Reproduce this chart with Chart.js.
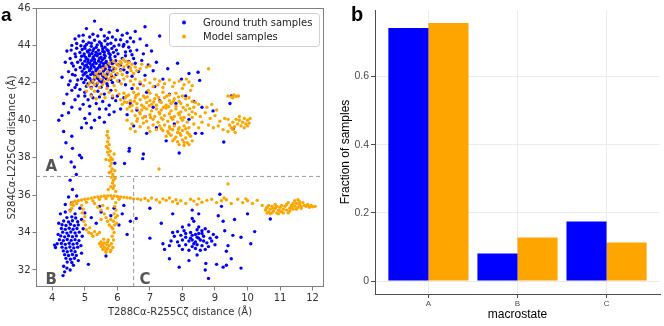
<!DOCTYPE html>
<html>
<head>
<meta charset="utf-8">
<script src="https://cdn.jsdelivr.net/npm/chart.js@4.4.1/dist/chart.umd.min.js"></script>
<style>
  html, body { margin: 0; padding: 0; background: #fff; }
  #wrap { position: relative; width: 664px; height: 326px; }
  #scatterChart { position: absolute; left: 0; top: 0; width: 330px; height: 326px; }
  #barChart { position: absolute; left: 330px; top: 0; width: 334px; height: 326px; }
</style>
</head>
<body>
<div id="wrap">
  <canvas id="scatterChart" width="330" height="326"></canvas>
  <canvas id="barChart" width="334" height="326"></canvas>
</div>
<script>
// ---- panel a: sample positions (flat x,y pairs) ----
const xTicks = [4, 5, 6, 7, 8, 9, 10, 11, 12];
const yTicks = [32, 34, 36, 38, 40, 42, 44, 46];
const splitX = 6.5;
const splitY = 37;
const regionNames = ['A', 'B', 'C'];

// ground truth, macrostate A dense core
const gtCoreA = [
  4.95,44.22, 5.12,44.15, 5.3,44.28, 5.45,44.18, 5.62,44.25, 5.8,44.12,
  4.88,43.98, 5.05,44.05, 5.2,43.95, 5.38,44.03, 5.52,43.97, 5.7,44.06, 5.9,43.96, 6.05,44.02,
  4.92,43.78, 5.0,43.85, 5.15,43.76, 5.28,43.83, 5.42,43.74, 5.55,43.82, 5.68,43.77, 5.83,43.84, 5.97,43.75,
  4.85,43.62, 4.98,43.55, 5.1,43.64, 5.22,43.57, 5.34,43.63, 5.47,43.56, 5.6,43.65, 5.74,43.58, 5.88,43.63, 6.02,43.55,
  4.9,43.42, 5.03,43.36, 5.14,43.44, 5.26,43.38, 5.38,43.45, 5.5,43.37, 5.63,43.43, 5.77,43.36, 5.93,43.41,
  4.87,43.22, 5.0,43.16, 5.1,43.24, 5.2,43.18, 5.3,43.25, 5.42,43.17, 5.54,43.23, 5.66,43.15, 5.8,43.22, 5.95,43.18,
  4.93,43.02, 5.05,42.96, 5.15,43.05, 5.25,42.98, 5.35,43.04, 5.46,42.95, 5.58,43.03, 5.71,42.97, 5.86,43.05, 6.0,42.98,
  4.86,42.82, 4.98,42.76, 5.09,42.84, 5.19,42.77, 5.29,42.85, 5.4,42.78, 5.51,42.83, 5.63,42.76, 5.76,42.84, 5.9,42.77,
  4.92,42.62, 5.04,42.56, 5.14,42.64, 5.24,42.57, 5.34,42.65, 5.45,42.58, 5.57,42.63, 5.7,42.56, 5.84,42.64,
  4.95,42.42, 5.07,42.36, 5.18,42.44, 5.3,42.37, 5.42,42.45, 5.55,42.38, 5.68,42.43, 5.82,42.36, 5.96,42.44,
  4.9,42.22, 5.02,42.16, 5.15,42.24, 5.28,42.17, 5.4,42.23, 5.53,42.15, 5.66,42.22, 5.8,42.17,
  4.97,42.02, 5.1,41.96, 5.24,42.04, 5.38,41.97, 5.52,42.03, 5.68,41.95, 5.85,42.02,
  5.05,41.82, 5.2,41.76, 5.35,41.84, 5.5,41.77, 5.7,41.83,
  5.0,43.95, 5.2,44.12, 5.35,43.9, 5.5,44.1, 5.62,43.9, 5.08,43.7, 5.25,43.72, 5.4,43.55, 5.55,43.68,
  5.15,43.5, 5.32,43.48, 5.6,43.5, 5.05,43.28, 5.25,43.3, 5.45,43.3, 5.6,43.32, 5.1,43.1, 5.3,43.12,
  5.5,43.1, 5.65,43.08, 5.0,42.9, 5.2,42.92, 5.45,42.88, 5.58,42.92, 5.15,42.7, 5.35,42.72, 5.6,42.7,
  5.0,42.5, 5.25,42.5, 5.48,42.5, 5.1,42.3, 5.35,42.3, 5.6,42.3, 5.2,42.1, 5.45,42.1, 4.98,43.45,
  5.72,43.72, 5.78,43.5, 5.82,43.05, 5.75,42.68
];
// ground truth, macrostate A spread
const gtSpreadA = [
  5.3,45.3, 5.05,44.9, 5.5,44.85, 5.75,44.7, 6.0,44.8, 6.3,44.65, 6.55,44.75, 6.85,45.0, 7.3,44.5,
  4.75,44.1, 4.6,44.0, 4.45,43.7, 4.55,43.3, 4.7,43.55, 4.4,43.1, 4.65,42.9, 4.5,42.6, 4.7,42.4,
  4.3,42.3, 4.55,42.1, 4.75,41.9, 4.6,41.6, 4.45,41.4, 4.8,41.3, 4.35,40.9, 4.6,40.7, 4.2,40.0,
  4.3,40.25, 4.5,40.4, 4.85,40.6, 5.0,40.1, 5.15,40.35, 5.3,40.0, 5.45,40.15, 5.6,39.9, 5.75,40.3,
  5.2,39.6, 5.05,39.85, 4.9,39.6,
  6.1,44.3, 6.2,44.05, 6.35,43.9, 6.5,44.2, 6.7,44.35, 6.9,44.0, 6.25,43.65, 6.45,43.5, 6.6,43.75,
  6.8,43.55, 7.05,43.7, 6.15,43.3, 6.35,43.15, 6.55,43.05, 6.75,43.2, 6.95,42.95, 7.2,43.1, 6.1,42.7,
  6.3,42.55, 6.45,42.35, 6.65,42.6, 6.85,42.4, 7.1,42.65, 6.05,42.1, 6.25,41.9, 6.45,41.7, 6.7,41.95,
  6.9,41.5, 7.15,41.8, 7.4,42.2, 7.55,42.75, 7.85,43.05, 7.97,42.2, 8.2,42.5, 8.48,42.57, 8.53,42.13,
  5.0,41.5, 5.2,41.35, 5.4,41.55, 5.6,41.4, 5.8,41.6, 6.0,41.3, 5.1,41.1, 5.35,40.9, 5.55,41.0,
  5.75,40.8, 5.95,41.05, 6.2,41.2, 6.4,40.9, 6.1,40.6, 5.9,40.45, 6.3,40.3, 6.6,40.55, 6.85,40.2,
  7.1,40.7, 7.3,41.05, 7.6,41.4, 7.8,40.9, 8.1,41.3, 8.35,41.0, 8.6,40.7, 8.94,40.5, 9.46,40.9,
  9.5,41.3, 8.4,39.3, 8.6,39.3, 9.27,38.84, 9.56,39.55, 7.5,38.9, 7.9,38.25, 6.8,38.2, 6.78,37.95,
  6.36,38.35, 5.92,37.7, 7.2,39.6, 6.9,39.3, 6.5,39.7, 7.75,39.8, 8.2,40.05,
  4.28,38.04, 4.58,37.77, 4.68,37.5, 4.84,38.13, 4.9,38.0, 4.74,37.1, 6.22,37.69, 6.37,38.5,
  4.42,38.8, 4.6,39.15, 4.35,39.4, 4.62,38.5,
  4.7,44.35, 4.82,44.5, 4.95,44.55, 5.15,44.45, 5.25,44.6, 5.4,44.5, 5.6,44.5, 5.7,44.38, 5.85,44.45,
  5.95,44.3, 6.15,44.55, 6.4,44.4, 4.75,43.85, 4.72,43.4, 4.78,43.1, 4.72,42.7, 4.78,42.15, 4.7,41.75,
  4.85,41.65, 4.58,43.75, 4.6,43.05, 4.62,42.45, 6.18,43.95, 6.25,43.45, 6.3,44.2, 6.4,43.7, 6.5,43.3,
  6.1,42.95, 6.2,42.7, 6.35,42.85, 5.0,41.3, 5.25,41.2, 5.45,41.25, 5.15,40.75, 5.45,40.6, 5.65,40.6,
  5.85,41.2, 4.95,40.85, 4.7,41.1, 4.5,41.9
];
// ground truth, macrostate B
const gtClusterB = [
  4.45,34.8, 4.6,34.84, 4.72,34.78,
  4.35,34.62, 4.5,34.57, 4.62,34.63, 4.78,34.58,
  4.3,34.42, 4.42,34.38, 4.56,34.44, 4.68,34.37, 4.8,34.41,
  4.28,34.22, 4.4,34.17, 4.52,34.23, 4.64,34.18, 4.76,34.22,
  4.32,34.02, 4.45,33.97, 4.57,34.03, 4.7,33.98, 4.83,34.02,
  4.26,33.82, 4.38,33.77, 4.5,33.83, 4.62,33.78, 4.74,33.82,
  4.22,33.62, 4.34,33.57, 4.46,33.63, 4.58,33.58, 4.7,33.62, 4.82,33.57,
  4.28,33.42, 4.4,33.37, 4.52,33.43, 4.64,33.38, 4.76,33.42,
  4.3,33.22, 4.42,33.17, 4.54,33.23, 4.66,33.18, 4.78,33.22,
  4.34,33.02, 4.46,32.97, 4.58,33.03, 4.7,32.98,
  4.38,32.82, 4.5,32.77, 4.62,32.83, 4.74,32.78,
  4.42,32.62, 4.56,32.57, 4.68,32.63,
  4.46,32.42, 4.6,32.4,
  4.15,33.4, 4.1,33.2, 4.2,34.5, 4.18,33.9, 4.25,35.0, 4.4,35.1, 4.55,35.2, 4.7,35.0, 4.9,34.7,
  4.95,34.2, 4.92,33.8, 4.88,33.3, 4.9,32.9, 4.8,32.5, 4.35,32.2, 4.33,31.7, 4.38,31.9, 4.45,32.1,
  4.55,32.0, 4.65,32.25, 5.11,32.3, 4.07,33.33,
  4.55,36.8, 4.62,36.3, 4.5,35.9, 4.75,35.95, 4.4,35.5, 4.6,35.6, 4.85,35.3, 5.0,35.05, 5.2,34.8,
  5.5,35.1, 5.35,34.5, 5.9,35.3, 6.2,35.45, 6.05,34.4, 6.3,33.9, 5.65,32.75, 6.4,34.6, 5.45,35.4,
  5.8,34.9, 6.15,35.0
];
// ground truth, macrostate C
const gtClusterC = [
  8.0,34.3, 8.2,34.4, 8.35,34.6, 8.5,34.3, 8.7,34.2, 8.3,34.75,
  7.85,34.05, 8.05,34.1, 8.25,34.0, 8.45,34.15, 8.6,33.95, 8.8,34.05, 8.95,33.9,
  7.75,33.8, 7.95,33.85, 8.1,33.75, 8.3,33.85, 8.5,33.7, 8.65,33.8, 8.85,33.7, 9.05,33.75,
  7.65,33.55, 7.85,33.5, 8.0,33.6, 8.2,33.55, 8.4,33.5, 8.55,33.6, 8.75,33.45, 8.9,33.55,
  7.9,33.3, 8.1,33.35, 8.3,33.25, 8.45,33.35, 8.6,33.3, 8.8,33.25, 9.0,33.35,
  8.0,33.1, 8.2,33.05, 8.4,33.15, 8.55,33.05, 8.7,33.1,
  8.4,33.9, 8.25,33.7, 8.5,33.95, 8.35,33.4, 8.65,33.55, 8.1,33.95, 8.45,33.75, 8.3,33.6, 8.6,34.1,
  7.7,34.0, 7.6,33.3,
  6.58,34.75, 7.0,35.3, 7.0,33.7, 7.35,34.5, 7.45,33.1, 7.4,33.4, 7.6,32.6, 7.9,32.15, 8.2,32.5,
  8.45,32.8, 8.7,32.0, 8.8,31.55, 8.72,32.35, 9.05,32.3, 9.25,32.15, 9.35,32.25, 9.8,32.1, 9.5,32.6,
  9.4,33.3, 9.35,33.0, 9.8,33.75, 10.1,33.4, 10.22,34.05, 10.0,35.0, 9.6,34.7, 9.3,34.1, 9.2,35.4,
  9.15,36.05, 9.25,34.6, 10.7,34.72, 8.5,35.0, 8.3,35.2, 7.7,35.0, 9.1,34.9, 9.55,33.85
];

// model, upper arm overlapping the ground-truth core
const modelArmA = [
  5.2,41.7, 5.3,41.9, 5.25,42.1, 5.4,42.0, 5.45,41.75, 5.55,41.9, 5.5,42.2, 5.6,42.05, 5.65,42.35,
  5.72,42.15, 5.8,42.45, 5.78,42.25, 5.88,42.6, 5.9,42.3, 5.95,42.75, 6.0,42.5, 6.05,42.9, 6.1,42.65,
  6.12,43.05, 6.2,42.85, 6.25,43.15, 6.3,42.95, 6.35,43.1, 6.18,43.25, 6.08,43.15, 5.98,43.0,
  5.85,42.85, 5.7,42.6, 5.58,42.45, 5.42,42.35, 5.35,42.5, 5.3,42.3, 5.15,42.0, 5.1,41.85, 5.45,42.6,
  5.55,42.75, 5.65,42.9, 5.75,43.05, 5.88,43.15, 6.4,42.8, 6.45,43.0, 6.55,42.85, 6.6,42.65, 6.5,42.5,
  6.42,42.65, 6.7,42.75, 6.75,43.0, 6.9,42.85, 7.0,42.9, 5.05,41.55,
  5.2,41.3, 5.35,41.15, 5.5,41.4, 5.62,41.2, 5.75,41.5, 5.85,41.3, 5.95,41.6, 6.05,41.4, 5.3,41.55,
  5.68,41.7, 5.9,41.85, 6.0,42.1, 6.12,41.95, 6.2,42.2, 6.3,42.35, 6.15,42.45
];
// model, main body of macrostate A
const modelBodyA = [
  6.4,42.1, 6.55,42.2, 6.7,42.05, 6.85,42.15, 7.0,42.0, 7.15,42.2, 7.3,42.1, 7.45,41.95, 7.6,42.15,
  7.75,42.0, 7.9,42.1, 8.05,41.9, 8.2,42.05, 8.3,41.85, 6.5,41.9, 6.8,41.85, 7.1,41.8, 7.4,41.75,
  7.7,41.8, 8.0,41.7, 8.25,41.6, 8.12,42.2, 7.25,41.9, 6.62,41.7, 6.95,41.6,
  6.2,41.45, 6.35,41.35, 6.5,41.5, 6.65,41.4, 6.8,41.3, 7.0,41.45, 7.2,41.35, 7.4,41.5, 7.6,41.35,
  7.8,41.45, 8.0,41.3,
  6.1,41.1, 6.25,41.2, 6.4,41.05, 6.55,41.2, 6.7,41.1, 6.85,41.2, 7.0,41.05, 7.15,41.15, 7.3,41.0,
  7.45,41.2, 7.6,41.05, 7.75,41.15, 7.9,41.0, 8.1,41.15, 8.3,41.0,
  6.15,40.85, 6.3,40.95, 6.45,40.8, 6.6,40.9, 6.75,40.8, 6.9,40.95, 7.05,40.85, 7.2,40.8, 7.35,40.95,
  7.5,40.8, 7.65,40.9, 7.8,40.75, 7.95,40.9, 8.15,40.8, 8.35,40.7, 8.5,40.85,
  6.3,40.6, 6.45,40.5, 6.6,40.65, 6.75,40.55, 6.9,40.6, 7.05,40.5, 7.2,40.6, 7.35,40.55, 7.5,40.65,
  7.65,40.5, 7.8,40.6, 7.95,40.45, 8.1,40.55, 8.3,40.45,
  6.55,40.25, 6.7,40.35, 6.85,40.2, 7.0,40.3, 7.15,40.2, 7.3,40.35, 7.45,40.25, 7.6,40.35, 7.75,40.2,
  7.9,40.3, 8.05,40.15, 8.2,40.3,
  6.9,39.95, 7.1,40.05, 7.25,39.9, 7.4,40.05, 7.55,39.95, 7.7,40.05, 7.85,39.9, 8.0,40.0, 8.15,39.9,
  7.3,39.7, 7.45,39.75, 7.6,39.65, 7.75,39.7, 7.9,39.6, 8.05,39.7, 8.2,39.6,
  7.4,39.45, 7.55,39.4, 7.7,39.5, 7.85,39.35, 8.0,39.45, 8.15,39.35,
  7.5,39.15, 7.65,39.2, 7.8,39.1, 7.95,39.2, 8.1,39.05, 8.25,39.15,
  7.7,38.9, 7.85,38.85, 8.0,38.95, 8.15,38.8, 8.3,38.9, 7.9,38.7, 8.05,38.65, 8.2,38.7,
  6.3,40.0, 6.45,39.8, 6.6,39.95, 6.4,39.55, 6.55,39.4, 6.7,39.65, 6.8,39.85, 6.95,39.6, 7.1,39.75,
  7.0,39.4, 7.2,39.5,
  6.28,41.28, 6.58,41.32, 6.92,41.25, 7.27,41.22, 7.52,41.3, 7.88,41.25, 8.2,41.2,
  6.22,40.98, 6.52,41.02, 6.82,40.7, 7.12,40.98, 7.42,40.7, 7.72,41.0, 8.02,40.68, 8.4,40.95,
  6.38,40.72, 6.68,40.42, 6.98,40.78, 7.28,40.42, 7.58,40.72, 7.88,40.38, 8.22,40.62,
  6.62,40.08, 6.78,40.12, 7.02,40.15, 7.35,40.12, 7.65,40.15, 7.95,40.12, 8.3,40.15,
  7.35,39.55, 7.62,39.55, 7.88,39.52, 8.1,39.55, 7.58,39.3, 7.92,39.3, 8.2,39.25, 7.75,39.0, 8.05,38.82
];
// model, tail towards large T288-R255 distance
const modelTailA = [
  8.4,40.35, 8.55,40.2, 8.7,40.4, 8.85,40.1, 9.0,40.25, 9.15,39.95, 9.3,40.1, 8.6,39.9, 8.8,39.75,
  8.95,39.6, 9.1,39.7, 9.25,39.5, 9.4,39.4, 9.5,39.6, 8.5,39.6, 8.35,39.8, 8.75,40.7, 8.9,40.85,
  9.05,40.55,
  9.45,39.75, 9.55,39.9, 9.6,39.65, 9.7,39.8, 9.75,40.0, 9.8,39.7, 9.85,39.9, 9.9,40.1, 9.95,39.8,
  10.0,40.0, 10.05,39.85, 10.08,40.1, 9.65,40.05, 9.9,39.6, 10.0,39.7, 9.55,39.5, 9.4,40.05, 9.75,40.2,
  9.62,39.35,
  9.4,41.3, 9.5,41.25, 9.58,41.35, 9.65,41.28, 9.72,41.3, 9.55,41.2, 8.8,42.75
];
// model, vertical stem between A and B
const modelStem = [
  5.7,39.4, 5.68,39.2, 5.73,39.05, 5.7,38.85, 5.75,38.7, 5.72,38.5, 5.78,38.35, 5.74,38.15, 5.8,38.0,
  5.76,37.85, 5.82,37.7, 5.78,37.55, 5.84,37.4, 5.8,37.25, 5.86,37.1, 5.82,36.95, 5.88,36.8, 5.85,36.65,
  5.9,36.5, 5.87,36.35, 5.66,38.6, 5.7,38.3, 5.65,37.9, 5.9,38.2, 5.85,37.9, 5.92,37.3, 5.75,37.2,
  5.93,36.9, 5.8,36.45, 5.72,36.3, 5.95,36.2, 7.28,37.4, 9.4,36.6
];
// model, horizontal path at ~35.8 A
const modelPath = [
  4.58,35.5, 4.62,35.62, 4.7,35.68, 4.8,35.7, 4.9,35.74, 5.0,35.78, 5.1,35.8, 5.2,35.84, 5.3,35.88,
  5.4,35.9, 5.5,35.93, 5.6,35.95, 5.7,35.96, 5.8,35.97, 5.9,35.95, 6.0,35.93, 6.1,35.9, 6.2,35.88,
  6.3,35.86, 6.4,35.85, 6.5,35.8, 4.65,35.45, 4.75,35.55, 5.05,35.62, 5.25,35.7, 5.45,35.78, 5.65,35.82,
  5.85,35.82, 6.05,35.78, 4.6,35.3, 4.55,35.15,
  6.62,35.8, 6.72,35.75, 6.85,35.82, 6.95,35.7, 7.05,35.85, 7.2,35.75, 7.3,35.62, 7.4,35.8, 7.5,35.72,
  7.6,35.85, 7.7,35.65, 7.8,35.75, 7.95,35.7, 8.1,35.55, 8.25,35.78, 8.35,35.68, 8.5,35.8, 8.6,35.62,
  8.75,35.72, 8.9,35.78, 9.05,35.6, 9.2,35.7, 9.35,35.75, 9.5,35.55, 9.7,35.78, 9.85,35.6, 10.0,35.7,
  10.15,35.55, 10.3,35.72, 10.45,35.45, 9.28,35.85, 7.85,35.55, 8.45,35.5, 9.95,35.8
];
// model, cluster at far right
const modelRight = [
  10.55,35.2, 10.6,35.35, 10.65,35.1, 10.7,35.25, 10.75,35.4, 10.8,35.15, 10.85,35.3, 10.9,35.05,
  10.95,35.2, 11.0,35.35, 11.05,35.1, 11.1,35.25, 11.15,35.4, 11.2,35.2, 11.25,35.05, 11.3,35.3,
  11.35,35.45, 11.4,35.25, 11.45,35.4, 11.5,35.55, 11.55,35.35, 11.6,35.5, 11.65,35.4, 11.7,35.6,
  11.75,35.45, 11.8,35.4, 11.85,35.5, 11.9,35.35, 11.95,35.45, 12.0,35.38, 12.08,35.4, 10.6,35.05,
  10.7,35.0, 10.8,35.3, 10.9,35.4, 11.0,35.15, 11.1,35.05, 10.65,35.45, 10.75,35.05, 10.85,35.5,
  11.3,35.15, 11.4,35.55, 11.5,35.25, 11.6,35.65, 11.45,35.7, 11.2,35.5, 10.95,35.0, 11.05,35.45,
  10.58,35.3, 11.25,35.6, 11.55,35.75, 11.35,35.35, 11.65,35.3
];
// model, loop in macrostate B
const modelLoopB = [
  5.95,35.6, 5.92,35.4, 5.96,35.2, 5.9,35.0, 5.94,34.8, 5.88,34.6, 5.92,34.4, 5.86,34.2, 5.9,34.0,
  5.84,33.8, 5.88,33.6, 5.82,33.4, 5.86,33.2, 5.8,33.05, 6.0,34.9, 5.98,34.5, 5.82,34.3, 5.8,34.7,
  5.5,33.5, 5.55,33.35, 5.6,33.2, 5.65,33.05, 5.7,33.15, 5.75,33.3, 5.6,33.45, 5.7,33.5, 5.5,33.25,
  5.55,33.1, 5.65,32.95, 5.78,32.98, 5.72,33.6, 5.45,33.4, 5.58,33.65, 5.68,33.35,
  4.9,35.45, 4.95,35.25, 4.92,35.05, 5.0,34.85, 4.97,34.6, 5.02,34.4, 5.05,34.15, 5.12,34.0, 5.2,33.95,
  5.3,34.05, 5.38,33.9, 5.45,34.0, 5.15,34.25, 5.25,33.8,
  5.3,35.55, 5.4,35.35, 5.5,35.2, 5.6,35.0, 5.65,34.8, 5.7,34.6, 5.75,34.4, 5.55,35.45, 5.7,35.3, 5.5,34.7
];

// ---- panel b: fraction of samples per macrostate ----
const macrostates = ['A', 'B', 'C'];
const gtFractions = [0.742, 0.081, 0.175];
const modelFractions = [0.757, 0.128, 0.113];
const fractionTicks = [0, 0.2, 0.4, 0.6];

function toPoints(flat) {
    const pts = [];
    for (let i = 0; i < flat.length; i += 2) {
        pts.push({ x: flat[i], y: flat[i + 1] });
    }
    return pts;
}

const BLUE = '#0000ff';
const ORANGE = '#ffa500';
const SPINE = '#808080';

// frame, legend and region letters for panel a
const scatterDecor = {
    id: 'scatterDecor',
    afterDraw(chart) {
        const ctx = chart.ctx;
        const area = chart.chartArea;
        const xs = chart.scales.x, ys = chart.scales.y;
        ctx.save();
        ctx.strokeStyle = SPINE;
        ctx.lineWidth = 1;
        ctx.strokeRect(Math.round(area.left) + 0.5, Math.round(area.top) + 0.5,
            Math.round(area.right - area.left) - 1, Math.round(area.bottom - area.top) - 1);

        // region letters
        ctx.fillStyle = '#555';
        ctx.font = 'bold 15px "DejaVu Sans"';
        ctx.textBaseline = 'alphabetic';
        ctx.textAlign = 'left';
        const letterPos = [[3.79, 37.3], [3.79, 31.25], [6.68, 31.25]];
        regionNames.forEach((name, i) => {
            ctx.fillText(name, xs.getPixelForValue(letterPos[i][0]), ys.getPixelForValue(letterPos[i][1]));
        });

        // legend box
        const lx = 169.5, ly = 13.5, lw = 150, lh = 33;
        ctx.fillStyle = 'rgba(255,255,255,0.85)';
        ctx.strokeStyle = '#d0d0d0';
        ctx.beginPath();
        ctx.roundRect(lx, ly, lw, lh, 3);
        ctx.fill();
        ctx.stroke();
        ctx.font = '10px "DejaVu Sans"';
        ctx.textBaseline = 'middle';
        chart.data.datasets.slice(0, 2).forEach((ds, i) => {
            const cy = 22.5 + i * 14;
            ctx.fillStyle = ds.backgroundColor;
            ctx.beginPath();
            ctx.arc(184, cy, 2, 0, Math.PI * 2);
            ctx.fill();
            ctx.fillStyle = '#222';
            ctx.fillText(ds.label, 203, cy + 0.5);
        });

        // panel letter
        ctx.fillStyle = '#000';
        ctx.font = 'bold 19px "Liberation Sans"';
        ctx.textBaseline = 'alphabetic';
        ctx.fillText('a', 1, 20.5);
        ctx.restore();
    }
};

new Chart(document.getElementById('scatterChart'), {
    type: 'scatter',
    data: {
        datasets: [
            {
                label: 'Ground truth samples',
                data: toPoints([].concat(gtCoreA, gtSpreadA, gtClusterB, gtClusterC)),
                backgroundColor: BLUE,
                pointRadius: 1.7,
                pointBorderWidth: 0,
                order: 2
            },
            {
                label: 'Model samples',
                data: toPoints([].concat(modelArmA, modelBodyA, modelTailA, modelStem, modelPath, modelRight, modelLoopB)),
                backgroundColor: ORANGE,
                pointRadius: 1.7,
                pointBorderWidth: 0,
                order: 1
            },
            {
                label: 'split-y',
                data: [{ x: 3.5, y: splitY }, { x: 12.35, y: splitY }],
                showLine: true,
                borderColor: '#999',
                borderWidth: 1,
                borderDash: [4, 3],
                pointRadius: 0,
                order: 0
            },
            {
                label: 'split-x',
                data: [{ x: splitX, y: 31.09 }, { x: splitX, y: splitY }],
                showLine: true,
                borderColor: '#999',
                borderWidth: 1,
                borderDash: [4, 3],
                pointRadius: 0,
                order: 0
            }
        ]
    },
    options: {
        responsive: false,
        animation: false,
        layout: { padding: { top: 7, right: 6, left: 0, bottom: 0 } },
        plugins: { legend: { display: false }, tooltip: { enabled: false } },
        scales: {
            x: {
                type: 'linear',
                min: 3.5,
                max: 12.35,
                afterBuildTicks: s => { s.ticks = xTicks.map(v => ({ value: v })); },
                afterFit: s => { s.height = 39; },
                grid: { drawOnChartArea: false, color: SPINE, tickLength: 3.5 },
                border: { display: false },
                ticks: { color: '#333', font: { family: 'DejaVu Sans', size: 10 }, padding: 2, maxRotation: 0, autoSkip: false },
                title: {
                    display: true,
                    text: 'T288Cα-R255Cζ distance (Å)',
                    color: '#333',
                    font: { family: 'DejaVu Sans', size: 10 },
                    padding: { top: 0, bottom: 8 }
                }
            },
            y: {
                type: 'linear',
                min: 31.09,
                max: 46,
                afterBuildTicks: s => { s.ticks = yTicks.map(v => ({ value: v })); },
                afterFit: s => { s.width = 36; },
                grid: { drawOnChartArea: false, color: SPINE, tickLength: 3.5 },
                border: { display: false },
                ticks: { color: '#333', font: { family: 'DejaVu Sans', size: 10 }, padding: 2, autoSkip: false },
                title: {
                    display: true,
                    text: 'S284Cα-L225Cα distance (Å)',
                    color: '#333',
                    font: { family: 'DejaVu Sans', size: 10 },
                    padding: { top: 6, bottom: 0 }
                }
            }
        }
    },
    plugins: [scatterDecor]
});

// panel letter for b
const barDecor = {
    id: 'barDecor',
    afterDraw(chart) {
        const ctx = chart.ctx;
        ctx.save();
        ctx.fillStyle = '#000';
        ctx.font = 'bold 20px "Liberation Sans"';
        ctx.fillText('b', 21, 20.5);
        ctx.restore();
    }
};

new Chart(document.getElementById('barChart'), {
    type: 'bar',
    data: {
        datasets: [
            {
                label: 'Ground truth samples',
                data: macrostates.map((m, i) => ({ x: i + 1, y: gtFractions[i] })),
                backgroundColor: BLUE,
                categoryPercentage: 0.9,
                barPercentage: 1
            },
            {
                label: 'Model samples',
                data: macrostates.map((m, i) => ({ x: i + 1, y: modelFractions[i] })),
                backgroundColor: ORANGE,
                categoryPercentage: 0.9,
                barPercentage: 1
            }
        ]
    },
    options: {
        responsive: false,
        animation: false,
        layout: { padding: { top: 10, right: 4, left: 0, bottom: 0 } },
        plugins: { legend: { display: false }, tooltip: { enabled: false } },
        scales: {
            x: {
                type: 'linear',
                min: 0.4,
                max: 3.6,
                offset: false,
                afterBuildTicks: s => { s.ticks = macrostates.map((m, i) => ({ value: i + 1 })); },
                afterFit: s => { s.height = 32; },
                grid: { offset: false, color: '#ebebeb', tickColor: '#4d4d4d', tickLength: 4 },
                border: { color: '#4d4d4d', width: 1 },
                ticks: {
                    callback: v => macrostates[v - 1],
                    color: '#4d4d4d',
                    font: { family: 'Liberation Sans', size: 8 },
                    padding: 1,
                    maxRotation: 0,
                    autoSkip: false
                },
                title: {
                    display: true,
                    text: 'macrostate',
                    color: '#000',
                    font: { family: 'Liberation Sans', size: 12 },
                    padding: { top: 0, bottom: 4 }
                }
            },
            y: {
                type: 'linear',
                min: -0.0379,
                max: 0.795,
                afterBuildTicks: s => { s.ticks = fractionTicks.map(v => ({ value: v })); },
                afterFit: s => { s.width = 45; },
                grid: { color: '#ebebeb', tickColor: '#4d4d4d', tickLength: 4 },
                border: { color: '#4d4d4d', width: 1 },
                ticks: {
                    callback: v => (v === 0 ? '0' : v.toFixed(1)),
                    color: '#4d4d4d',
                    font: { family: 'Liberation Sans', size: 10.5 },
                    padding: 2,
                    autoSkip: false
                },
                title: {
                    display: true,
                    text: 'Fraction of samples',
                    color: '#000',
                    font: { family: 'Liberation Sans', size: 12 },
                    padding: { top: 8, bottom: 0 }
                }
            }
        }
    },
    plugins: [barDecor]
});
</script>
</body>
</html>
